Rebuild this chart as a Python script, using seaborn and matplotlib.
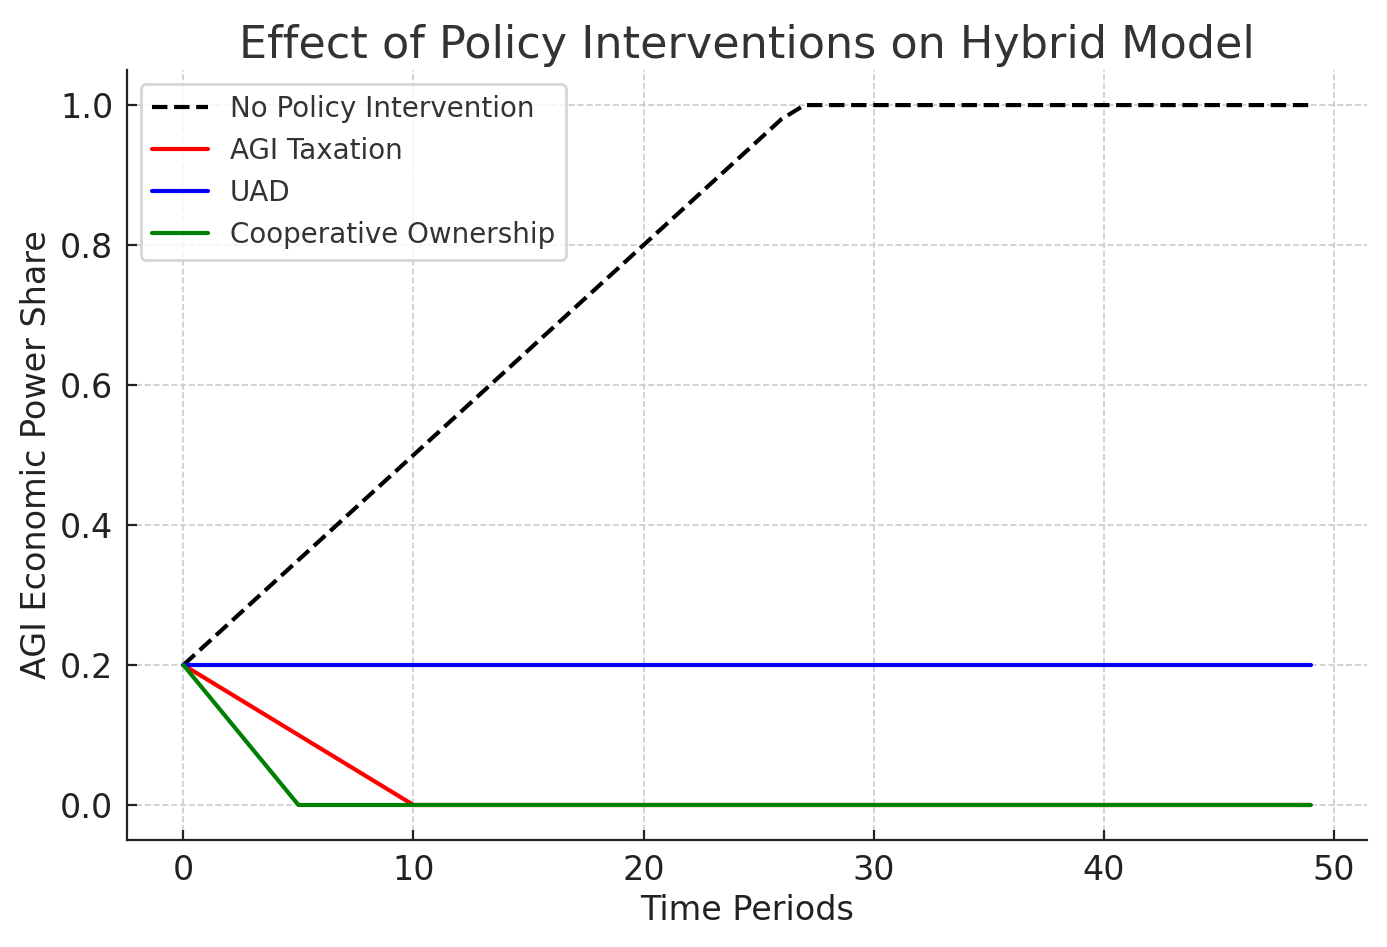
import matplotlib.pyplot as plt
import seaborn as sns
import pandas as pd

time_periods = list(range(50))

no_policy = [0.20, 0.23, 0.26, 0.29, 0.32, 0.35, 0.38, 0.41, 0.44, 0.47,
             0.50, 0.53, 0.56, 0.59, 0.62, 0.65, 0.68, 0.71, 0.74, 0.77,
             0.80, 0.83, 0.86, 0.89, 0.92, 0.95, 0.98, 1.00, 1.00, 1.00,
             1.00, 1.00, 1.00, 1.00, 1.00, 1.00, 1.00, 1.00, 1.00, 1.00,
             1.00, 1.00, 1.00, 1.00, 1.00, 1.00, 1.00, 1.00, 1.00, 1.00]
agi_taxation = [0.20, 0.18, 0.16, 0.14, 0.12, 0.10, 0.08, 0.06, 0.04, 0.02,
                0.00] + [0.00] * 39
uad = [0.20] * 50
cooperative = [0.20, 0.16, 0.12, 0.08, 0.04, 0.00] + [0.00] * 44

series_names = ["No Policy Intervention", "AGI Taxation", "UAD", "Cooperative Ownership"]
series_values = [no_policy, agi_taxation, uad, cooperative]
series_colors = ["black", "red", "blue", "green"]
series_styles = ["--", "-", "-", "-"]

sns.set_style("white")
plt.rcParams['font.family'] = ['DejaVu Sans']

fig = plt.figure(figsize=(6.935, 4.735), dpi=200)
ax = fig.add_axes([0.0916, 0.113, 0.894, 0.813])

for name, vals, color, ls in zip(series_names, series_values, series_colors, series_styles):
    df = pd.DataFrame({"t": time_periods, "v": vals})
    sns.lineplot(data=df, x="t", y="v", ax=ax, color=color, linestyle=ls,
                 linewidth=1.5, label=name)

ax.set_title("Effect of Policy Interventions on Hybrid Model", fontsize=16,
             color="#333333", pad=4.5)
ax.set_xlabel("Time Periods", fontsize=12, color="#222222", labelpad=2.5)
ax.set_ylabel("AGI Economic Power Share", fontsize=12, color="#222222", labelpad=2.5)
ax.tick_params(axis="both", labelsize=12, direction="in", length=3.5, width=0.8,
               pad=5, colors="#222222", bottom=True, left=True)
ax.set_xticks([0, 10, 20, 30, 40, 50])
ax.set_yticks([0.0, 0.2, 0.4, 0.6, 0.8, 1.0])
ax.grid(True, linestyle="--", color="#cccccc", linewidth=0.6)
sns.despine(ax=ax)
ax.spines["left"].set_color("#222222")
ax.spines["bottom"].set_color("#222222")

leg = ax.legend(loc="upper left", fontsize=10, frameon=True)
for t in leg.get_texts():
    t.set_color("#333333")

fig.savefig("out.png", dpi=200)
